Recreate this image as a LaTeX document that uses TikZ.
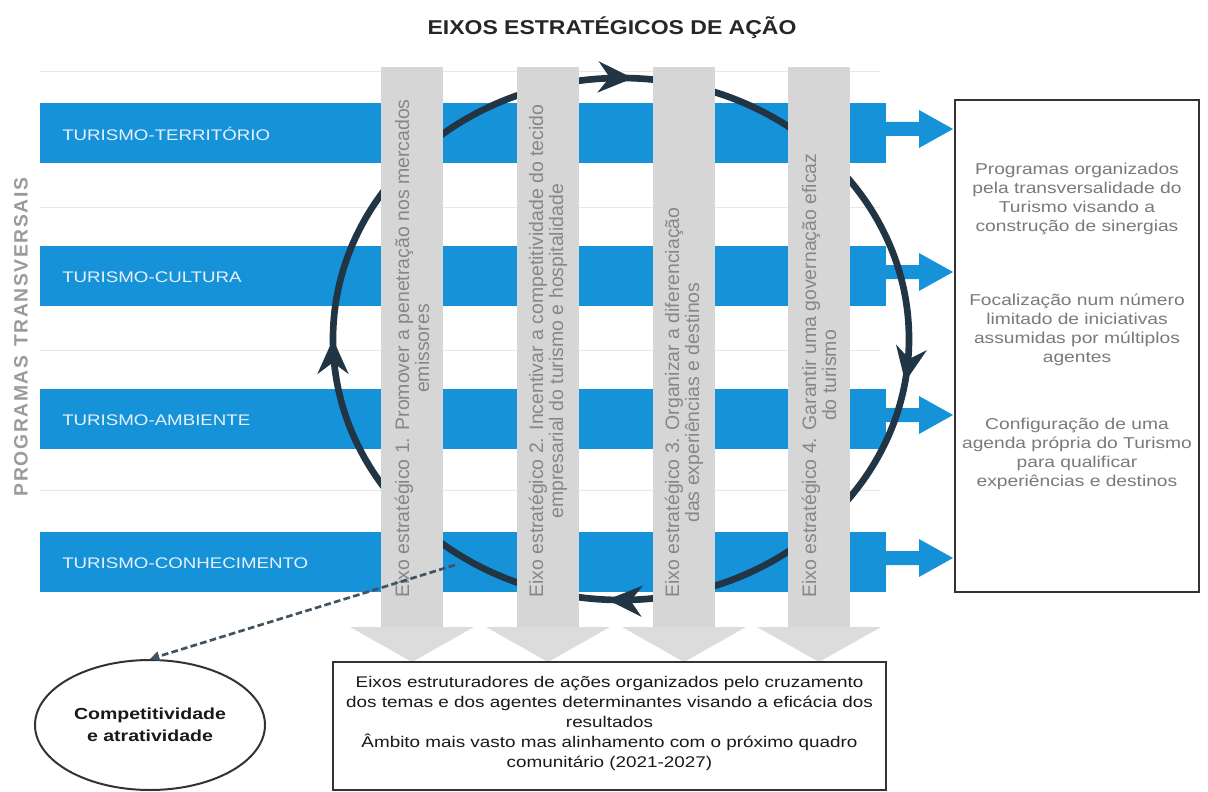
\documentclass[tikz,border=0pt]{standalone}
\usepackage{fontspec}
\setmainfont{Liberation Sans}
\newfontfamily\breitschrift[FakeStretch=1.22]{Liberation Sans}
\newfontfamily\titelschrift[FakeStretch=1.15]{Liberation Sans}
\newfontfamily\gesperrt[LetterSpace=8]{Liberation Sans}
\usetikzlibrary{arrows.meta}
\usetikzlibrary{decorations.markings}
\usetikzlibrary{shapes.geometric}
\usetikzlibrary{positioning}
\definecolor{balkenblau}{RGB}{22,146,216}
\definecolor{saeulengrau}{RGB}{214,214,214}
\definecolor{ringblau}{RGB}{33,53,68}
\definecolor{saeulentextgrau}{RGB}{135,135,135}
\definecolor{zielgrau}{RGB}{122,122,122}
\definecolor{programmgrau}{RGB}{155,155,155}
\definecolor{kastengrau}{RGB}{51,51,51}
\definecolor{liniengrau}{RGB}{232,232,232}
\definecolor{balkentextweiss}{RGB}{230,242,251}

\begin{document}
\begin{tikzpicture}[x=0.75pt, y=-0.75pt, % 1 Einheit = 1 Pixel, y-Achse nach unten
  balken/.style={fill=balkenblau},
  saeule/.style={fill=saeulengrau},
  kasten/.style={draw=kastengrau, line width=1.5pt},
  balkentext/.style={anchor=west, inner sep=0pt, text=balkentextweiss, font=\breitschrift\fontsize{11.5}{13}\selectfont},
  saeulentext/.style={rotate=90, anchor=west, align=center, inner sep=0pt, text=saeulentextgrau, font=\fontsize{14.6}{15}\selectfont},
  zieltext/.style={align=center, text=zielgrau, font=\breitschrift\fontsize{11.8}{14.3}\selectfont},
  ring/.style={draw=ringblau, color=ringblau, line width=5pt,
    decoration={markings,
      mark=at position 0.025 with {\arrow{Stealth[length=26pt, width=23pt]}},
      mark=at position 0.258 with {\arrow{Stealth[length=26pt, width=23pt]}},
      mark=at position 0.5 with {\arrow{Stealth[length=26pt, width=23pt]}},
      mark=at position 0.757 with {\arrow{Stealth[length=26pt, width=23pt]}}},
    postaction={decorate}},
  verbindung/.style={draw=ringblau!85, line width=2pt, dash pattern=on 5pt off 2.5pt, -{Triangle[length=7pt, width=7pt]}}
]

% Rahmen
\fill[white] (0,0) rectangle (1208,792);
\useasboundingbox (0,0) rectangle (1208,792);

% Titel
\node[font=\titelschrift\bfseries\fontsize{15}{18}\selectfont, text=black!85] (titel) at (612,28) {EIXOS ESTRATÉGICOS DE AÇÃO};

% Programme links
\node[rotate=90, font=\gesperrt\bfseries\fontsize{14.5}{16}\selectfont, text=programmgrau] (programas) at (21,337) {PROGRAMAS\hspace{7pt}TRANSVERSAIS};

% Hilfslinien
\foreach \y in {72,207,350,490} {
  \draw[liniengrau, line width=0.75pt] (40,\y) -- (880,\y);
}

% Balken mit Pfeilen
\foreach \y/\txt [count=\i] in {103/TURISMO-TERRITÓRIO, 246/TURISMO-CULTURA, 389/TURISMO-AMBIENTE, 532/TURISMO-CONHECIMENTO} {
  \fill[balken] (40,\y) rectangle (886,\y+60); % Balken
  \fill[balken] (886,\y+19) -- (919,\y+19) -- (919,\y+7) -- (953,\y+26) -- (919,\y+45) -- (919,\y+33) -- (886,\y+33) -- cycle; % Pfeil
  \node[balkentext] (prog\i) at (62,\y+31) {\txt}; % Beschriftung
}

% Kreislauf
\draw[ring] (621,339) ellipse [x radius=288, y radius=261];

% Achsen (Saeulen)
\foreach \x/\txt [count=\i] in {412/{Eixo estratégico 1. Promover a penetração nos mercados\\emissores},
    548/{Eixo estratégico 2. Incentivar a competitividade do tecido\\empresarial do turismo e hospitalidade},
    684/{Eixo estratégico 3. Organizar a diferenciação\\das experiências e destinos},
    819/{Eixo estratégico 4. Garantir uma governação eficaz\\do turismo}} {
  \fill[saeule] (\x-31,67) rectangle (\x+31,627); % Saeule
  \fill[saeulengrau!85] (\x-62,627) -- (\x+62,627) -- (\x,662) -- cycle; % Spitze
  \node[saeulentext] (eixo\i) at (\x,598) {\txt};
}

% Kasten rechts
\draw[kasten] (955,100) rectangle (1199,592);
\node[zieltext] (ziel1) at (1077,199) {Programas organizados\\pela transversalidade do\\Turismo visando a\\construção de sinergias};
\node[zieltext] (ziel2) at (1077,330) {Focalização num número\\limitado de iniciativas\\assumidas por múltiplos\\agentes};
\node[zieltext] (ziel3) at (1077,454) {Configuração de uma\\agenda própria do Turismo\\para qualificar\\experiências e destinos};

% Kasten unten
\draw[kasten] (333,662) rectangle (886,790);
\node[align=center, text=black!90, font=\breitschrift\fontsize{11.6}{15}\selectfont] (basis) at (609.5,723) {Eixos estruturadores de ações organizados pelo cruzamento\\dos temas e dos agentes determinantes visando a eficácia dos\\resultados\\Âmbito mais vasto mas alinhamento com o próximo quadro\\comunitário (2021-2027)};

% Ellipse mit Verbindung
\node[ellipse, kasten, minimum width=172.5pt, minimum height=97.5pt, align=center, text=black!90, font=\breitschrift\bfseries\fontsize{12}{16.5}\selectfont] (komp) at (150,725) {Competitividade\\e atratividade};
\coordinate (ringpunkt) at (455,565);
\draw[verbindung] (ringpunkt) -- (komp.north);

\end{tikzpicture}
\end{document}
